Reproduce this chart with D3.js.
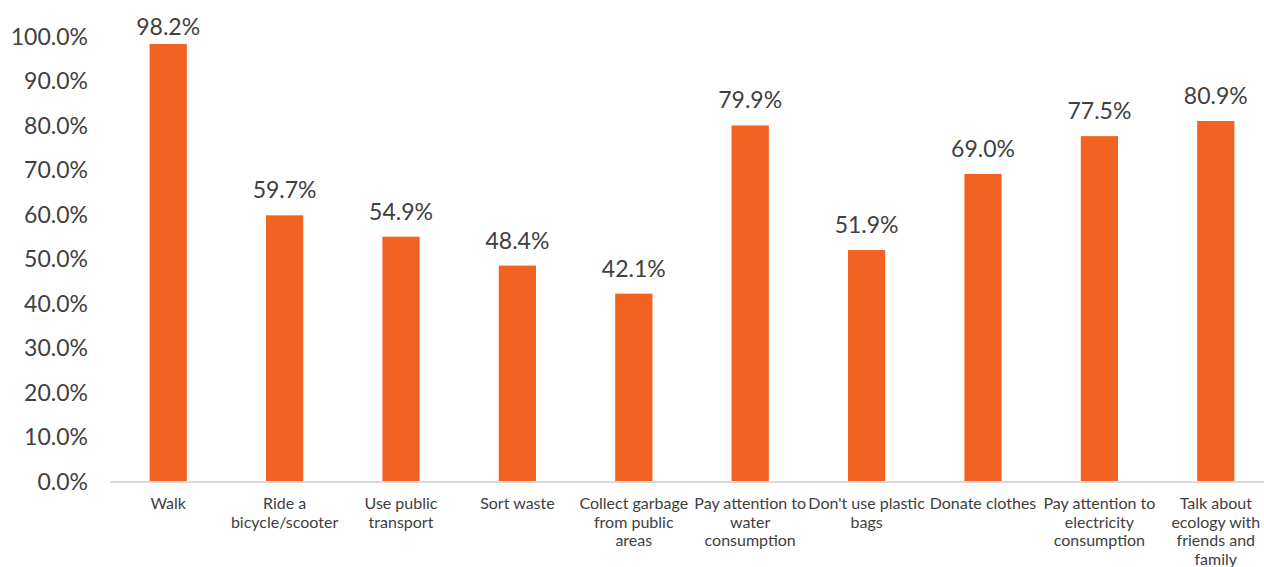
<!DOCTYPE html>
<html>
<head>
<meta charset="utf-8">
<script src="https://cdn.jsdelivr.net/npm/d3@7"></script>
<style>
  html, body { margin: 0; padding: 0; background: #fff; }
  svg { display: block; }
</style>
</head>
<body>
<svg id="chart" width="1264" height="567"></svg>
<script>
// Share of respondents practising each eco-friendly habit
const categories = [
  "Walk",
  "Ride a\nbicycle/scooter",
  "Use public\ntransport",
  "Sort waste",
  "Collect garbage\nfrom public\nareas",
  "Pay attention to\nwater\nconsumption",
  "Don't use plastic\nbags",
  "Donate clothes",
  "Pay attention to\nelectricity\nconsumption",
  "Talk about\necology with\nfriends and\nfamily"
];
const values = [98.2, 59.7, 54.9, 48.4, 42.1, 79.9, 51.9, 69.0, 77.5, 80.9];
const yTicks = [0, 10, 20, 30, 40, 50, 60, 70, 80, 90, 100];

const svg = d3.select("#chart");
const font = "Lato, 'Open Sans', sans-serif";
const textColor = "#404040";
const barColor = "#F26322";

const plotLeft = 110, plotRight = 1274, baseY = 481, topY = 36;

const x = d3.scaleBand()
  .domain(categories)
  .range([plotLeft, plotRight])
  .paddingInner(0.68)
  .paddingOuter(0.34);

const y = d3.scaleLinear().domain([0, 100]).range([baseY, topY]);

// Y axis labels (no axis line, no tick marks)
const yAxis = d3.axisLeft(y)
  .tickValues(yTicks)
  .tickSize(0)
  .tickPadding(0)
  .tickFormat(d => d.toFixed(1) + "%");

const gy = svg.append("g")
  .attr("transform", "translate(88,0)")
  .call(yAxis);
gy.select(".domain").remove();
gy.selectAll("text")
  .attr("font-family", font)
  .attr("font-size", 23)
  .attr("fill", textColor)
  .attr("dy", "0.35em");

// Bars
svg.append("g")
  .selectAll("rect")
  .data(values)
  .join("rect")
  .attr("x", (d, i) => x(categories[i]))
  .attr("width", x.bandwidth())
  .attr("y", d => y(d))
  .attr("height", d => y(0) - y(d))
  .attr("fill", barColor);

// Baseline
svg.append("line")
  .attr("x1", plotLeft).attr("x2", 1264)
  .attr("y1", baseY + 1).attr("y2", baseY + 1)
  .attr("stroke", "#d9d9d9")
  .attr("stroke-width", 2);

// Value labels above bars, kept inside the plot area
svg.append("g")
  .selectAll("text")
  .data(values)
  .join("text")
  .attr("x", (d, i) => x(categories[i]) + x.bandwidth() / 2)
  .attr("y", d => Math.max(y(d) - 17, 35))
  .attr("text-anchor", "middle")
  .attr("font-family", font)
  .attr("font-size", 23)
  .attr("fill", textColor)
  .text(d => d.toFixed(1) + "%");

// Category labels, wrapped onto several lines
const cat = svg.append("g")
  .selectAll("text")
  .data(categories)
  .join("text")
  .attr("x", d => x(d) + x.bandwidth() / 2)
  .attr("y", 509)
  .attr("text-anchor", "middle")
  .attr("font-family", font)
  .attr("font-size", 16)
  .attr("fill", textColor);

cat.each(function(d) {
  const t = d3.select(this);
  d.split("\n").forEach((line, k) => {
    t.append("tspan")
      .attr("x", t.attr("x"))
      .attr("dy", k === 0 ? 0 : 18.7)
      .text(line);
  });
});
</script>
</body>
</html>
